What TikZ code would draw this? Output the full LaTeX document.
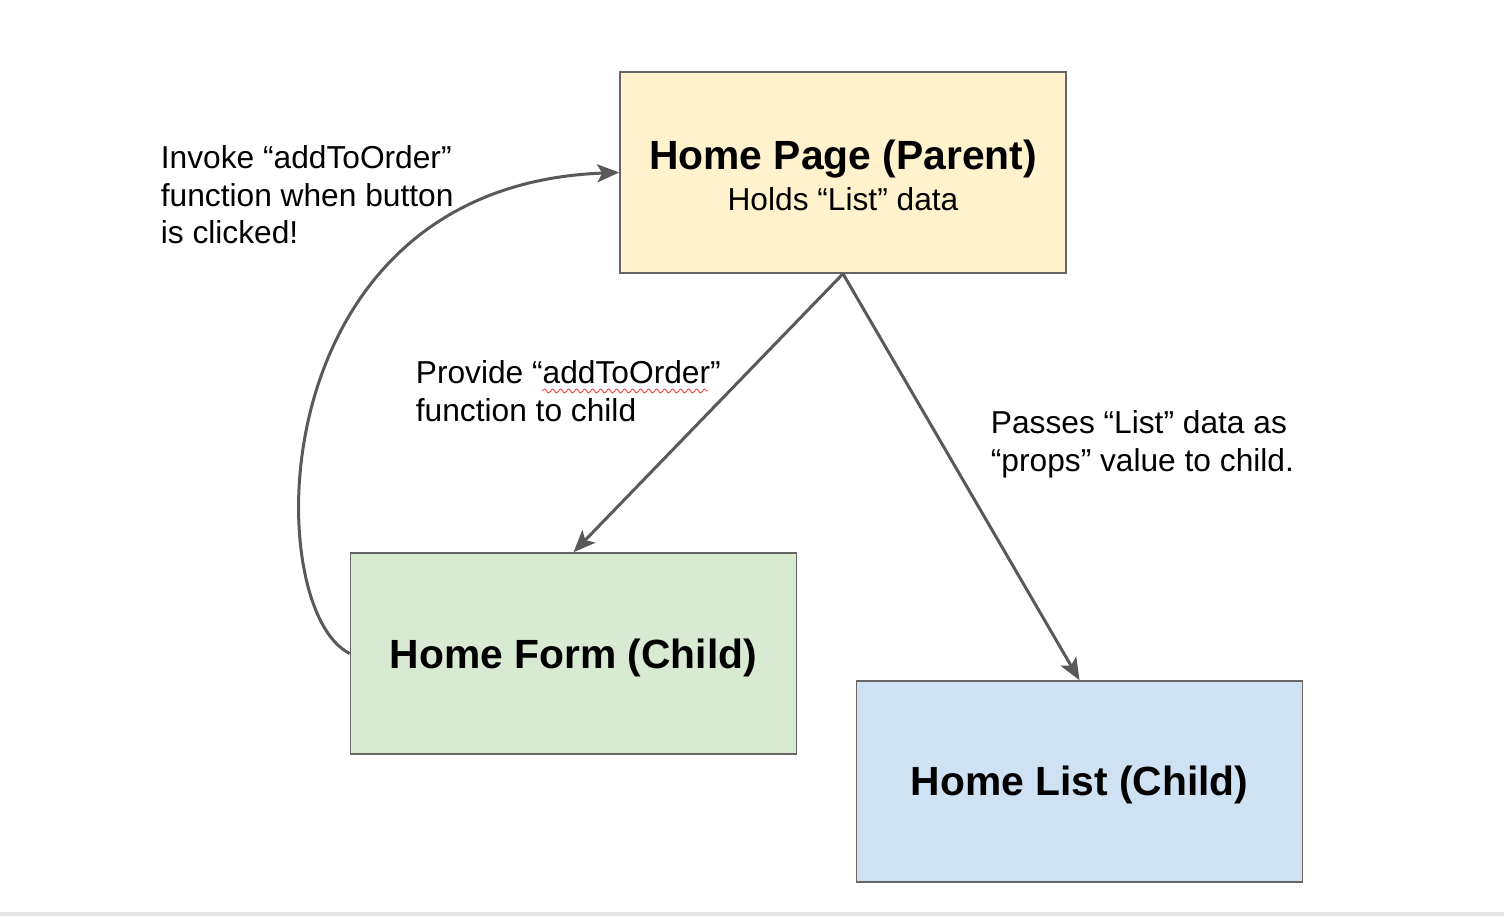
\documentclass[tikz,border=0pt]{standalone}
\usepackage{fontspec}
\setmainfont{Liberation Sans}
\usetikzlibrary{arrows.meta}
\usetikzlibrary{decorations.pathmorphing}

\definecolor{pagefill}{HTML}{FFF2CC}
\definecolor{formfill}{HTML}{D9EAD3}
\definecolor{listfill}{HTML}{CFE2F3}
\definecolor{edgegray}{HTML}{595959}
\definecolor{boxgray}{HTML}{666666}

\begin{document}
\begin{tikzpicture}[x=0.5pt,y=-0.5pt,
  box/.style={rectangle,draw=boxgray,line width=0.75pt,minimum width=223pt,minimum height=100.5pt,inner sep=0pt},
  boxtitle/.style={font=\fontsize{20.4}{24}\selectfont\bfseries,inner sep=0pt,anchor=base},
  note/.style={font=\fontsize{15.85}{18.75}\selectfont,inner sep=0pt,align=left,anchor=north west},
  link/.style={draw=edgegray,line width=1.5pt,-{Stealth[length=11pt,width=9pt,inset=2.5pt]}}]
\useasboundingbox (0,0) rectangle (1504,916);
\fill[black!10] (0,912) rectangle (1504,916);

\node[box,fill=pagefill] (page) at (843,172.5) {};
\node[boxtitle] (pagetitle) at (843,169) {Home Page (Parent)};
\node[font=\fontsize{15.85}{18.75}\selectfont,inner sep=0pt,anchor=base] (pagedata) at (843,210.7) {Holds “List” data};

\node[box,fill=formfill] (form) at (573.5,653.5) {};
\node[boxtitle] (formtitle) at (573.5,668.5) {Home Form (Child)};

\node[box,fill=listfill] (list) at (1079.5,781.5) {};
\node[boxtitle] (listtitle) at (1079.5,795.5) {Home List (Child)};

\draw[link] (page.south) -- (form.north);
\draw[link] (page.south) -- (list.north);
\draw[link] (form.west) .. controls +(-90,-44) and +(-362,13) .. (page.west);

\node[note] (invoke) at (160.5,145.5) {Invoke “addToOrder”\\function when button\\is clicked!};
\node[note] (provide) at (415.5,360.5) {Provide “addToOrder”\\function to child};
\node[note] (passes) at (990.5,410.5) {Passes “List” data as\\“props” value to child.};

\draw[red!80,line width=0.4pt,decorate,decoration={snake,amplitude=1pt,segment length=4pt}] (542,391) -- (708,391);
\end{tikzpicture}
\end{document}
